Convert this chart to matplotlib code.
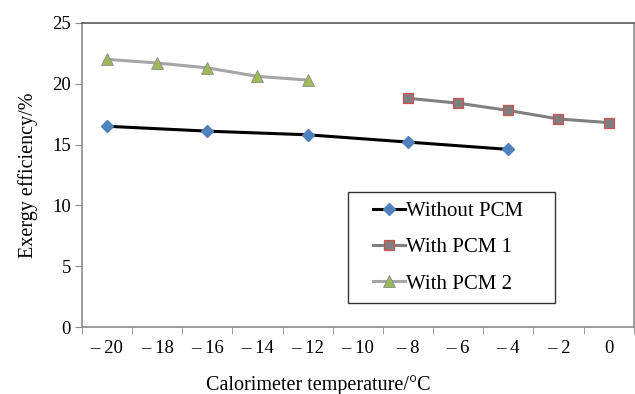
import numpy as np
import matplotlib.pyplot as plt
from matplotlib.legend_handler import HandlerLine2D

plt.rcParams['font.family'] = ['Liberation Serif', 'DejaVu Serif']

# data
temps_no_pcm = [-20, -16, -12, -8, -4]
eff_no_pcm = [16.5, 16.1, 15.8, 15.2, 14.6]

temps_pcm1 = [-8, -6, -4, -2, 0]
eff_pcm1 = [18.8, 18.4, 17.8, 17.1, 16.8]

temps_pcm2 = [-20, -18, -16, -14, -12]
eff_pcm2 = [22.0, 21.7, 21.3, 20.6, 20.3]

x_labels = [-20, -18, -16, -14, -12, -10, -8, -6, -4, -2, 0]


def fmt_label(v):
    return "\u2013 %d" % abs(v) if v < 0 else "%d" % v


fig = plt.figure(figsize=(6.35, 3.94), dpi=100)
ax = fig.add_axes([0.129, 0.170, 0.869, 0.772])

ax.plot(temps_no_pcm, eff_no_pcm, color="black", lw=2.2, marker="D",
        markersize=6.5, markerfacecolor="#4F81BD", markeredgecolor="#4F81BD",
        label="Without PCM")
ax.plot(temps_pcm1, eff_pcm1, color="#808080", lw=2.2, marker="s",
        markersize=7.5, markerfacecolor="#7F7F7F", markeredgecolor="#D05050",
        markeredgewidth=0.9, label="With PCM 1")
ax.plot(temps_pcm2, eff_pcm2, color="#A6A6A6", lw=2.2, marker="^",
        markersize=8.5, markerfacecolor="#9BBB59", markeredgecolor="#8C8C8C",
        markeredgewidth=0.6, label="With PCM 2")

ax.set_xlim(-21, 1)
ax.set_ylim(0, 25)
ax.set_yticks(np.arange(0, 26, 5))

# category-style axis: labels at the centres, tick marks between them
ax.set_xticks(x_labels)
ax.set_xticklabels([fmt_label(v) for v in x_labels])
ax.set_xticks(np.arange(-21, 2, 2), minor=True)
ax.tick_params(axis="x", which="major", length=0, pad=9, labelsize=13.5)
ax.tick_params(axis="x", which="minor", length=5, color="#8C8C8C", direction="out")
ax.tick_params(axis="y", length=5, color="#8C8C8C", direction="out", labelsize=13.5, pad=3)

for side in ["left", "bottom", "right"]:
    ax.spines[side].set_color("#8C8C8C")
    ax.spines[side].set_linewidth(1.2)
ax.spines["top"].set_color("#595959")
ax.spines["top"].set_linewidth(1.2)

ax.set_xlabel("Calorimeter temperature/\u00b0C", fontsize=14.5)
ax.xaxis.set_label_coords(0.4275, -0.158)
ax.set_ylabel("Exergy efficiency/%", fontsize=14.5)
ax.yaxis.set_label_coords(-0.08, 0.5)

hmap = {line: HandlerLine2D(xpad=0.75) for line in ax.get_lines()}
leg = ax.legend(loc="lower left", bbox_to_anchor=(0.482, 0.079, 0.375, 0.3),
                mode="expand", fontsize=15, frameon=True, fancybox=False,
                handlelength=2.28, handletextpad=0.05, labelspacing=0.8,
                borderpad=0.45, borderaxespad=0, handler_map=hmap)
leg.get_frame().set_edgecolor("black")
leg.get_frame().set_linewidth(1.0)

fig.savefig("out.png", dpi=100)
